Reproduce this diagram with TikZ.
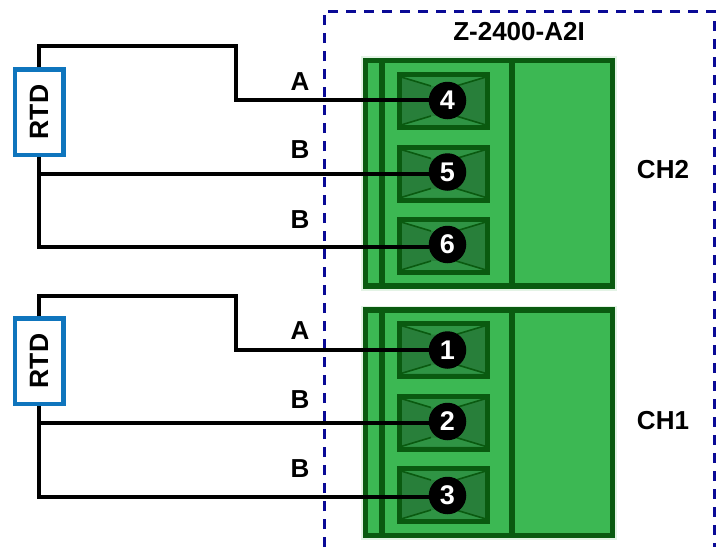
\documentclass[tikz,border=0pt]{standalone}
\usepackage{fontspec}
\setmainfont{Liberation Sans}
\definecolor{blockgreen}{HTML}{3CB853}
\definecolor{darkedge}{HTML}{0A5A10}
\definecolor{screwside}{HTML}{287F3A}
\definecolor{screwtop}{HTML}{2F9444}
\definecolor{halo}{HTML}{E3F3E5}
\definecolor{rtdblue}{HTML}{0F75BD}
\definecolor{dashblue}{HTML}{0A0A96}
\tikzset{
  x=1pt,y=-1pt,
  wire/.style={draw=black,line width=4pt,line join=miter},
  rtdbox/.style={draw=rtdblue,line width=4.5pt,fill=white,minimum width=48.5pt,minimum height=85.5pt,inner sep=0pt,outer sep=2pt},
  rtdtext/.style={font=\fontsize{26.5}{26.5}\selectfont\bfseries,rotate=90},
  lbl/.style={font=\fontsize{26}{26}\selectfont\bfseries,inner sep=0pt},
  term/.style={circle,fill=black,text=white,minimum size=37.5pt,inner sep=0pt,font=\fontsize{27}{27}\selectfont\bfseries},
  boundary/.style={draw=dashblue,line width=3pt,dash pattern=on 10pt off 8pt}
}
\newcommand{\screwblock}[2]{%
  \begin{scope}[shift={(0,#1)}]
  \fill[halo] (361,-2) rectangle (617,#2+2);
  \fill[blockgreen] (363,0) rectangle (615,#2);
  \draw[darkedge,line width=5.5pt] (365.7,2.7) rectangle (612.3,#2-2.7);
  \draw[darkedge,line width=6pt] (381.7,0) -- (381.7,#2);
  \draw[darkedge,line width=6pt] (511.7,0) -- (511.7,#2);
  \end{scope}}
\newcommand{\screwcell}[1]{%
  \begin{scope}[shift={(0,#1)}]
  \fill[screwside] (397,0) rectangle (490,58);
  \fill[screwtop] (401,5) -- (486,5) -- (456,14) -- (431,14) -- cycle;
  \fill[screwtop] (401,53) -- (486,53) -- (456,44) -- (431,44) -- cycle;
  \draw[darkedge,line width=1.6pt] (401,5) -- (431,14) (486,5) -- (456,14) (401,53) -- (431,44) (486,53) -- (456,44);
  \draw[darkedge,line width=5pt] (399.5,2.5) rectangle (487.5,55.5);
  \end{scope}}
\begin{document}
\begin{tikzpicture}
\useasboundingbox (0,0) rectangle (718,547);
\fill[white] (0,0) rectangle (718,547);
\coordinate (dashA) at (324,547);
\coordinate (dashB) at (324,11);
\coordinate (dashC) at (714,11);
\coordinate (dashD) at (714,547);
\draw[boundary] (dashA) -- (dashB) -- (dashC) -- (dashD);
\screwblock{58}{230.5}
\screwblock{307.5}{230.5}
\screwcell{72}
\screwcell{144.5}
\screwcell{217}
\screwcell{320.5}
\screwcell{393.5}
\screwcell{466}
\node[term] (t4) at (447.5,100.5) {4};
\node[term] (t5) at (447.5,172) {5};
\node[term] (t6) at (447.5,244.5) {6};
\node[term] (t1) at (447.5,350) {1};
\node[term] (t2) at (447.5,421.5) {2};
\node[term] (t3) at (447.5,495.5) {3};
\node[rtdbox] (rtdA) at (39,112) {};
\node[rtdtext] at (rtdA) {RTD};
\node[rtdbox] (rtdB) at (39,361) {};
\node[rtdtext] at (rtdB) {RTD};
\coordinate (stepA) at (236,46);
\coordinate (stepB) at (236,296);
\coordinate (kneeA) at (236,100);
\coordinate (kneeB) at (236,350);
\coordinate (jointA) at (39,174);
\coordinate (jointB) at (39,423);
\coordinate (endA) at (39,247);
\coordinate (endB) at (39,497);
\draw[wire] (rtdA.north) |- (stepA) -- (kneeA) -- (kneeA -| t4.west);
\draw[wire] (rtdA.south) -- (endA) -- (endA -| t6.west);
\draw[wire] (jointA) -- (jointA -| t5.west);
\draw[wire] (rtdB.north) |- (stepB) -- (kneeB) -- (kneeB -| t1.west);
\draw[wire] (rtdB.south) -- (endB) -- (endB -| t3.west);
\draw[wire] (jointB) -- (jointB -| t2.west);
\node[lbl] at (300,82) {A};
\node[lbl] at (300,150) {B};
\node[lbl] at (300,220) {B};
\node[lbl] at (300,331) {A};
\node[lbl] at (300,400) {B};
\node[lbl] at (300,469) {B};
\node[lbl] at (519,31.5) {Z-2400-A2I};
\node[lbl] at (663,170) {CH2};
\node[lbl] at (663,421) {CH1};
\end{tikzpicture}
\end{document}
